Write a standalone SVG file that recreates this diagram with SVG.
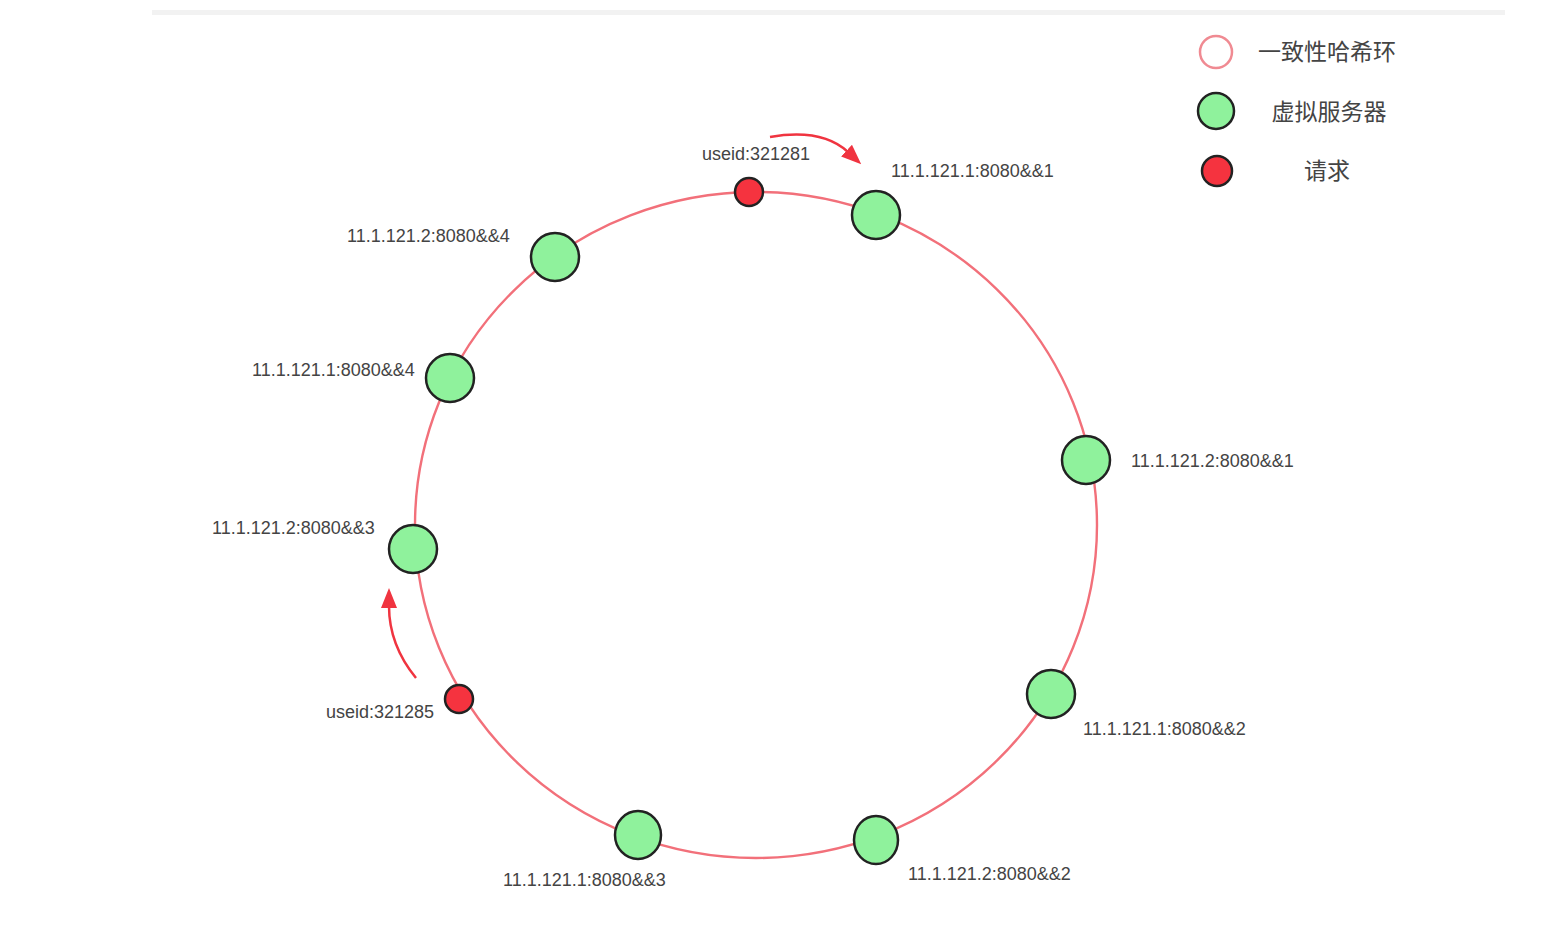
<svg xmlns="http://www.w3.org/2000/svg" width="1564" height="946" viewBox="0 0 1564 946">
<style>
.lbl{font-family:"Liberation Sans","Noto Sans CJK SC",sans-serif;font-size:18px;fill:#444}
.leg{font-family:"Noto Sans CJK SC","Liberation Sans",sans-serif;font-size:23px;fill:#444}
.vs{fill:#8ff29c;stroke:#222;stroke-width:2.5}
.rq{fill:#f5333f;stroke:#222;stroke-width:2.5}
.arr{fill:none;stroke:#f03440;stroke-width:2.5}
</style>
<defs>
<marker id="ah" markerWidth="20" markerHeight="16" refX="2" refY="8" orient="auto" markerUnits="userSpaceOnUse">
<path d="M0,0 L20,8 L0,16 z" fill="#f03440"/>
</marker>
</defs>
<rect width="1564" height="946" fill="#fff"/>
<rect x="152" y="10" width="1353" height="5" fill="#f2f2f2"/>
<g id="ring">
<ellipse cx="756" cy="525" rx="341" ry="333" fill="none" stroke="#f2707a" stroke-width="2.4"/>
</g>
<g id="connectors">
<path class="arr" d="M770,137 Q822,128 848,152" marker-end="url(#ah)"/>
<path class="arr" d="M416,678 Q389,645 389,606" marker-end="url(#ah)"/>
</g>
<g id="req1"><circle class="rq" cx="749" cy="192" r="14"/><text class="lbl" x="702" y="160">useid:321281</text></g>
<g id="req2"><circle class="rq" cx="459" cy="699" r="14"/><text class="lbl" x="326" y="718">useid:321285</text></g>
<g id="n1"><circle class="vs" cx="876" cy="215" r="24"/><text class="lbl" x="891" y="177">11.1.121.1:8080&amp;&amp;1</text></g>
<g id="n2"><circle class="vs" cx="555" cy="257" r="24"/><text class="lbl" x="347" y="242">11.1.121.2:8080&amp;&amp;4</text></g>
<g id="n3"><circle class="vs" cx="450" cy="378" r="24"/><text class="lbl" x="252" y="376">11.1.121.1:8080&amp;&amp;4</text></g>
<g id="n4"><circle class="vs" cx="1086" cy="460" r="24"/><text class="lbl" x="1131" y="467">11.1.121.2:8080&amp;&amp;1</text></g>
<g id="n5"><circle class="vs" cx="413" cy="549" r="24"/><text class="lbl" x="212" y="534">11.1.121.2:8080&amp;&amp;3</text></g>
<g id="n6"><circle class="vs" cx="1051" cy="694" r="24"/><text class="lbl" x="1083" y="735">11.1.121.1:8080&amp;&amp;2</text></g>
<g id="n7"><ellipse class="vs" cx="876" cy="840" rx="22" ry="24"/><text class="lbl" x="908" y="880">11.1.121.2:8080&amp;&amp;2</text></g>
<g id="n8"><ellipse class="vs" cx="638" cy="835" rx="23" ry="24"/><text class="lbl" x="503" y="886">11.1.121.1:8080&amp;&amp;3</text></g>
<g id="legend">
<circle cx="1216" cy="52" r="16" fill="#fff" stroke="#f08a92" stroke-width="2.5"/>
<text class="leg" x="1327" y="60" text-anchor="middle">一致性哈希环</text>
<circle class="vs" cx="1216" cy="111" r="18"/>
<text class="leg" x="1329" y="120" text-anchor="middle">虚拟服务器</text>
<circle class="rq" cx="1217" cy="171" r="15"/>
<text class="leg" x="1327" y="179" text-anchor="middle">请求</text>
</g>
</svg>
